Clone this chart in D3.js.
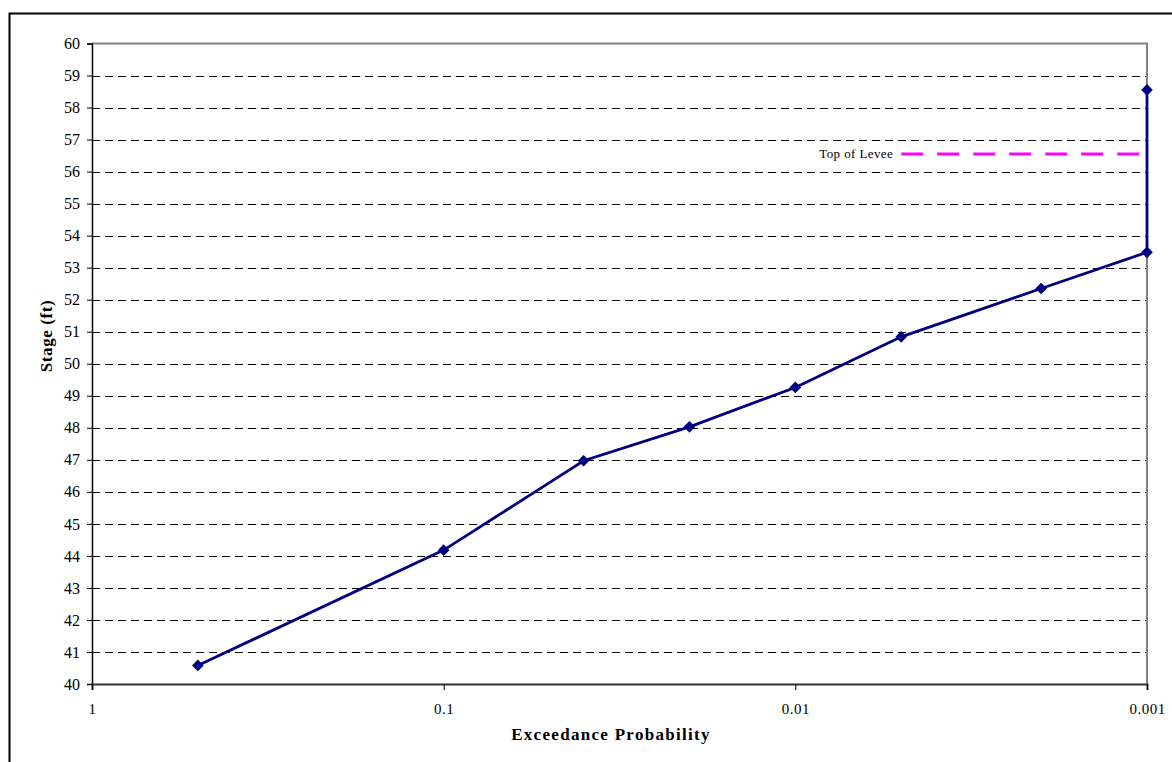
<!DOCTYPE html>
<html>
<head>
<meta charset="utf-8">
<script src="https://cdn.jsdelivr.net/npm/d3@7"></script>
<style>
  html, body { margin: 0; padding: 0; background: #fff; }
  svg { display: block; }
  svg text { font-family: "Liberation Serif", "Times New Roman", "DejaVu Serif", serif !important; fill: #000; }
</style>
</head>
<body>
<svg id="chart" width="1172" height="762"></svg>
<script>
// Data
const probabilities = [0.5, 0.1, 0.04, 0.02, 0.01, 0.005, 0.002, 0.001, 0.001];
const stages = [40.58, 44.18, 46.97, 48.03, 49.26, 50.84, 52.35, 53.48, 58.55];
const leveeProb = [0.005, 0.001];
const leveeStage = [56.55, 56.55];
const xTicks = [1, 0.1, 0.01, 0.001];
const xTickLabels = ["1", "0.1", "0.01", "0.001"];
const yTicks = d3.range(40, 61, 1);

const svg = d3.select("#chart");
const L = 92, R = 1147, T = 43.5, B = 684;

const x = d3.scaleLog().domain([1, 0.001]).range([L, R]);
const y = d3.scaleLinear().domain([40, 60]).range([B, T]);

// Outer frame
svg.append("rect").attr("x", 9.5).attr("y", 13.5).attr("width", 1300).attr("height", 900)
  .attr("fill", "none").attr("stroke", "#000").attr("stroke-width", 2);

// Gridlines
svg.append("g").selectAll("line").data(yTicks.filter(v => v > 40 && v < 60)).join("line")
  .attr("x1", L).attr("x2", R).attr("y1", d => Math.round(y(d)) + 0.5).attr("y2", d => Math.round(y(d)) + 0.5)
  .attr("stroke", "#000").attr("stroke-width", 1).attr("stroke-dasharray", "8,5");

// Top and right border (gray)
svg.append("line").attr("x1", L).attr("x2", R + 1).attr("y1", T).attr("y2", T)
  .attr("stroke", "#808080").attr("stroke-width", 2);
svg.append("line").attr("x1", R).attr("x2", R).attr("y1", T).attr("y2", B)
  .attr("stroke", "#808080").attr("stroke-width", 2);

// Y axis
const yAxis = d3.axisLeft(y).tickValues(yTicks).tickSize(5).tickPadding(7).tickFormat(d3.format("d"));
const gy = svg.append("g").attr("transform", `translate(${L},0)`).call(yAxis)
  .attr("font-family", null).attr("font-size", null);
gy.select(".domain").attr("stroke", "#000").attr("stroke-width", 1.5);
gy.selectAll(".tick line").attr("stroke", "#000");
gy.selectAll(".tick text").style("font-size", "16px").attr("fill", "#000");

// X axis
const xAxis = d3.axisBottom(x).tickValues(xTicks).tickSize(6).tickPadding(13)
  .tickFormat((d, i) => xTickLabels[i]);
const gx = svg.append("g").attr("transform", `translate(0,${B})`).call(xAxis)
  .attr("font-family", null).attr("font-size", null);
gx.select(".domain").attr("stroke", "#333").attr("stroke-width", 2);
gx.selectAll(".tick line").attr("stroke", "#000");
gx.selectAll(".tick text").style("font-size", "15px").style("letter-spacing", "0.5px").attr("fill", "#000");

// Top of levee line
const leveeData = leveeProb.map((p, i) => [p, leveeStage[i]]);
svg.append("path").datum(leveeData)
  .attr("d", d3.line().x(d => x(d[0])).y(d => y(d[1])))
  .attr("fill", "none").attr("stroke", "#FF00FF").attr("stroke-width", 3).attr("stroke-dasharray", "22,14");
svg.append("text").attr("x", x(leveeProb[0]) - 8).attr("y", y(leveeStage[0]) + 4)
  .attr("text-anchor", "end").style("font-size", "13px").style("letter-spacing", "0.4px").text("Top of Levee");

// Main series
const data = probabilities.map((p, i) => [p, stages[i]]);
svg.append("path").datum(data)
  .attr("d", d3.line().x(d => x(d[0])).y(d => y(d[1])))
  .attr("fill", "none").attr("stroke", "#000080").attr("stroke-width", 2.8);
svg.append("g").selectAll("path").data(data).join("path")
  .attr("d", d3.symbol().type(d3.symbolSquare).size(68))
  .attr("transform", d => `translate(${x(d[0])},${y(d[1])}) rotate(45)`)
  .attr("fill", "#000080");

// Axis titles
svg.append("text").attr("x", 611).attr("y", 740).attr("text-anchor", "middle")
  .style("font-size", "17px").style("font-weight", "bold").style("letter-spacing", "1.3px")
  .text("Exceedance Probability");
svg.append("text").attr("transform", "translate(52,336) rotate(-90)").attr("text-anchor", "middle")
  .style("font-size", "17px").style("font-weight", "bold").style("letter-spacing", "0.6px")
  .text("Stage (ft)");
</script>
</body>
</html>
